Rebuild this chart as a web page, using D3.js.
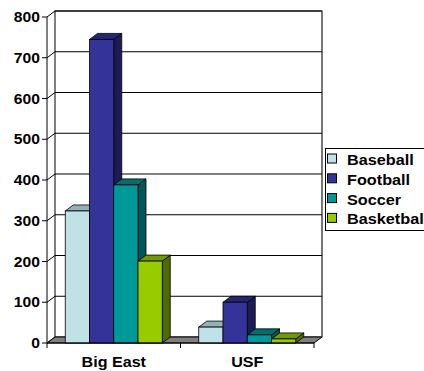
<!DOCTYPE html>
<html>
<head>
<meta charset="utf-8">
<script src="https://cdn.jsdelivr.net/npm/d3@7"></script>
<style>
  body { margin: 0; background: #fff; }
  text { font-family: Arial, "Liberation Sans", sans-serif; font-weight: bold; }
</style>
</head>
<body>
<svg id="chart" width="424" height="371"></svg>
<script>
// data
const categories = ["Big East", "USF"];
const sports = ["Baseball", "Football", "Soccer", "Basketball"];
const baseball = [324, 39];
const football = [745, 100];
const soccer = [388, 20];
const basketball = [201, 10];
const yTicks = [0, 100, 200, 300, 400, 500, 600, 700, 800];

const series = [baseball, football, soccer, basketball];
// front, top, side shades
const colors = [
  ["#c0e2e6", "#93b4b6", "#7f9c9e"],
  ["#333399", "#252573", "#1c1c55"],
  ["#009999", "#006f6f", "#005757"],
  ["#99cc00", "#729900", "#4f6a00"]
];

const svg = d3.select("#chart");
const dx = 8, dy = -6;           // depth offset
const x0 = 47, x1 = 314;         // front plot edges
const y = d3.scaleLinear().domain([0, 800]).range([343, 17]);
const xCat = d3.scaleBand().domain(categories).range([x0, x1]);
const xSer = d3.scaleBand().domain(sports).range([0, 97]);

// back wall
svg.append("rect")
  .attr("x", x0 + dx).attr("y", y(800) + dy)
  .attr("width", x1 - x0).attr("height", y(0) - y(800))
  .attr("fill", "#fff").attr("stroke", "#000").attr("stroke-width", 1);
svg.append("line")
  .attr("x1", x1 + dx).attr("x2", x1 + dx)
  .attr("y1", y(800) + dy).attr("y2", y(0) + dy)
  .attr("stroke", "#777").attr("stroke-width", 2);

// gridlines, incl. the diagonal on the side wall
yTicks.forEach(t => {
  if (t > 0) {
    svg.append("line")
      .attr("x1", x0 + dx).attr("x2", x1 + dx)
      .attr("y1", y(t) + dy).attr("y2", y(t) + dy)
      .attr("stroke", "#000");
  }
  svg.append("line")
    .attr("x1", x0).attr("y1", y(t))
    .attr("x2", x0 + dx).attr("y2", y(t) + dy)
    .attr("stroke", "#000");
  svg.append("line")
    .attr("x1", x0 - 5).attr("x2", x0)
    .attr("y1", y(t)).attr("y2", y(t))
    .attr("stroke", "#000");
  svg.append("text")
    .attr("transform", `translate(${x0 - 7},${y(t) + 5}) scale(1.12,1)`)
    .attr("text-anchor", "end")
    .attr("font-size", 14)
    .text(t);
});

// floor
svg.append("polygon")
  .attr("points", [[x0, y(0)], [x1, y(0)], [x1 + dx, y(0) + dy], [x0 + dx, y(0) + dy]].join(" "))
  .attr("fill", "#808080").attr("stroke", "#000");

// front value axis
svg.append("line")
  .attr("x1", x0).attr("x2", x0).attr("y1", y(800)).attr("y2", y(0))
  .attr("stroke", "#000");

// bars
categories.forEach((c, ci) => {
  series.forEach((s, si) => {
    const bx = xCat(c) + (xCat.bandwidth() - 97) / 2 + xSer(sports[si]);
    const bw = xSer.bandwidth();
    const top = y(s[ci]), base = y(0);
    const g = svg.append("g").attr("stroke", "#000").attr("stroke-width", 0.8);
    g.append("polygon")
      .attr("points", [[bx + bw, top], [bx + bw + dx, top + dy], [bx + bw + dx, base + dy], [bx + bw, base]].join(" "))
      .attr("fill", colors[si][2]);
    g.append("polygon")
      .attr("points", [[bx, top], [bx + dx, top + dy], [bx + bw + dx, top + dy], [bx + bw, top]].join(" "))
      .attr("fill", colors[si][1]);
    g.append("rect")
      .attr("x", bx).attr("y", top).attr("width", bw).attr("height", base - top)
      .attr("fill", colors[si][0]);
  });
});

// category axis
svg.append("line")
  .attr("x1", x0).attr("x2", x1).attr("y1", y(0)).attr("y2", y(0))
  .attr("stroke", "#000");
[x0, xCat("USF"), x1].forEach(xx => {
  svg.append("line")
    .attr("x1", xx).attr("x2", xx).attr("y1", y(0)).attr("y2", y(0) + 5)
    .attr("stroke", "#000");
});
categories.forEach(c => {
  svg.append("text")
    .attr("transform", `translate(${xCat(c) + xCat.bandwidth() / 2},367) scale(1.15,1)`)
    .attr("text-anchor", "middle")
    .attr("font-size", 14)
    .text(c);
});

// legend
const legend = svg.append("g");
legend.append("rect")
  .attr("x", 325.5).attr("y", 148.5).attr("width", 110).attr("height", 82)
  .attr("fill", "#fff").attr("stroke", "#000");
sports.forEach((s, i) => {
  const ly = 165 + i * 19.8;
  legend.append("rect")
    .attr("x", 327.5).attr("y", ly - 11).attr("width", 9).attr("height", 9)
    .attr("fill", colors[i][0]).attr("stroke", "#000");
  legend.append("text")
    .attr("transform", `translate(347,${ly}) scale(1.16,1)`)
    .attr("font-size", 14)
    .text(s);
});
</script>
</body>
</html>
